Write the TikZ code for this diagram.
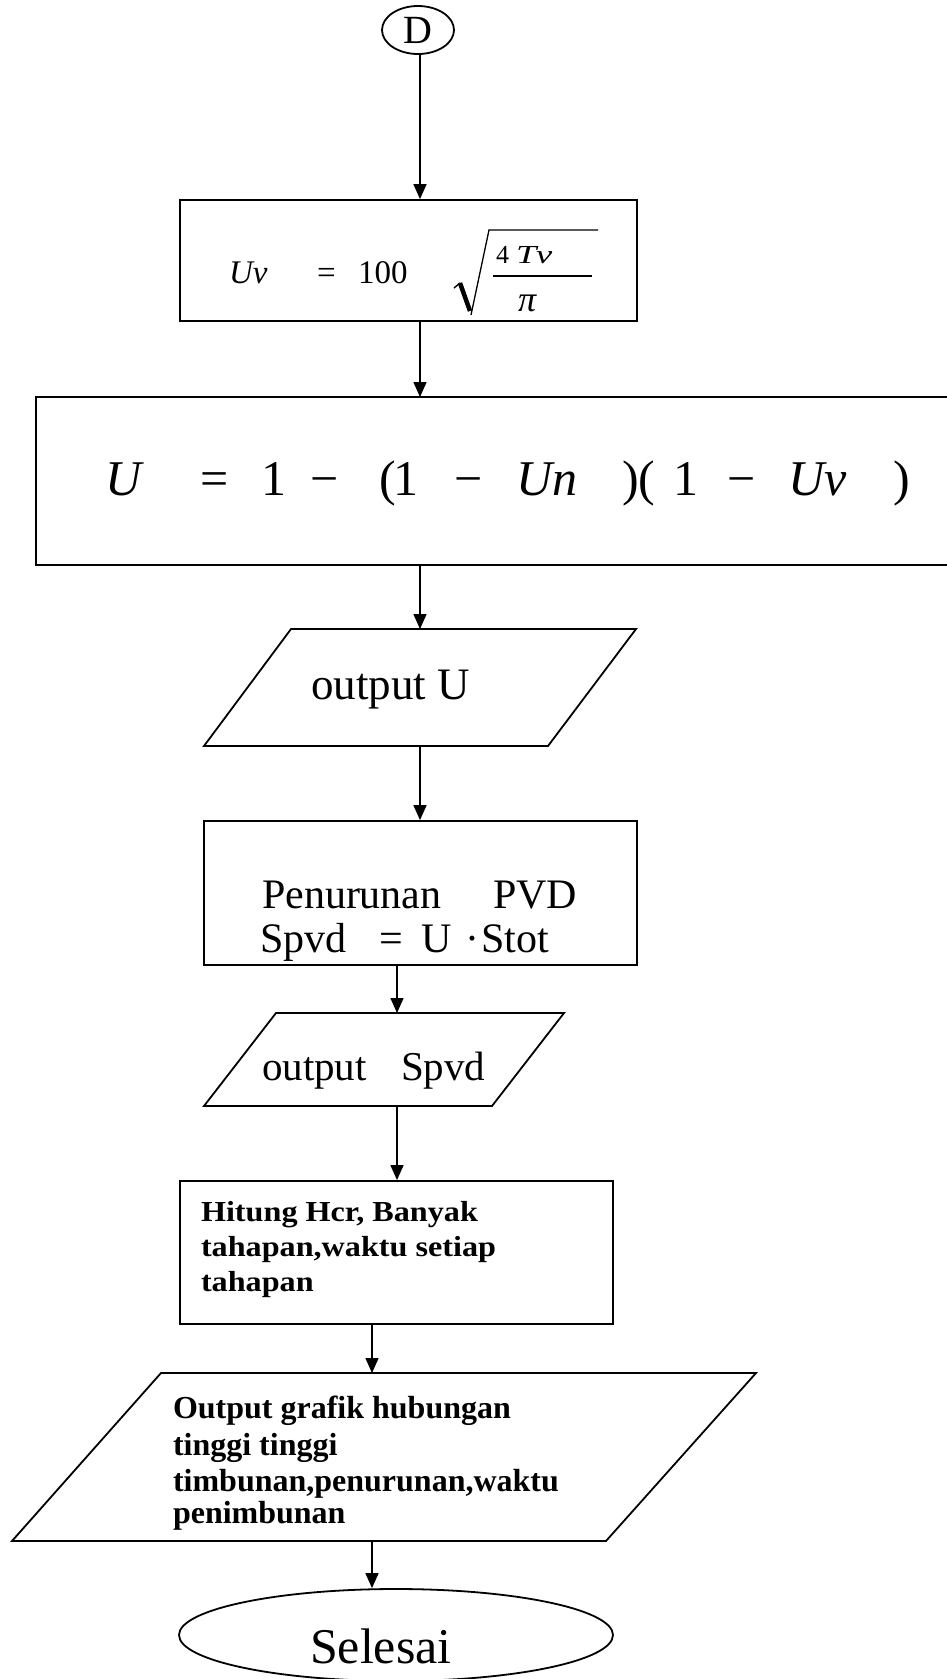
\documentclass[tikz,border=0pt]{standalone}
\usepackage{fontspec}
\setmainfont{Liberation Serif}
\usepackage{graphicx}
\usetikzlibrary{shapes.geometric,arrows.meta}
\newcommand\fsz[1]{\fontsize{#1pt}{#1pt}\selectfont}
\begin{document}
\begin{tikzpicture}[x=1pt,y=-1pt,
  bl/.style={line width=1.8pt},
  boxnode/.style={draw,line width=1.8pt,shape=rectangle,inner sep=0pt},
  hold/.style={shape=rectangle,inner sep=0pt,outer sep=0pt},
  arr/.style={line width=1.5pt,-{Triangle[length=15pt,width=13pt]}},
  txt/.style={inner sep=0pt,outer sep=0pt,anchor=base west}]
\useasboundingbox[fill=white] (0,0) rectangle (947,1679);

% shapes
\node[draw,bl,ellipse,minimum width=72pt,minimum height=48pt,inner sep=0pt] (D) at (418,30) {\fsz{40}D};
\node[boxnode,minimum width=457pt,minimum height=121pt] (box1) at (408.5,260.5) {};
\node[hold,minimum width=911pt,minimum height=168pt] (box2) at (491.5,481) {};
\draw[bl] (box2.north east) -- (box2.north west) -- (box2.south west) -- (box2.south east);
\node[hold,minimum width=432pt,minimum height=117pt] (p1) at (420,687.5) {};
\draw[bl] (p1.north east) -- ([xshift=-88pt]p1.south east) -- (p1.south west) -- ([xshift=87pt]p1.north west) -- cycle;
\node[boxnode,minimum width=433pt,minimum height=144pt] (box3) at (420.5,893) {};
\node[hold,minimum width=360pt,minimum height=93pt] (p2) at (384,1059.5) {};
\draw[bl] (p2.north east) -- ([xshift=-72pt]p2.south east) -- (p2.south west) -- ([xshift=72pt]p2.north west) -- cycle;
\node[boxnode,minimum width=433pt,minimum height=143pt] (box4) at (396.5,1252.5) {};
\node[hold,minimum width=744pt,minimum height=168pt] (p3) at (384,1457) {};
\draw[bl] (p3.north east) -- ([xshift=-150pt]p3.south east) -- (p3.south west) -- ([xshift=149pt]p3.north west) -- cycle;
\node[draw,bl,ellipse,minimum width=434pt,minimum height=92pt,inner sep=0pt] (sel) at (396,1635) {};

% box1 formula
\node[txt] (f1a) at (229,283.5) {\fsz{33}\itshape Uv};
\node[txt] (f1b) at (317,283.5) {\fsz{33}=};
\node[txt] (f1c) at (358,283.5) {\fsz{33}100};
\draw[line width=1.4pt] (454,288) -- (460,283);
\draw[line width=4.5pt] (460,283) -- (470,311);
\draw[line width=1.3pt] (471,315) -- (489,230) -- (598,230);
\node[txt] (f1d) at (496,263) {\fsz{26}4};
\node[txt] (f1e) at (516,263) {\fsz{26}\scalebox{1.4}[1]{\itshape Tv}};
\draw[line width=1.3pt] (493,276) -- (592,276);
\node[txt] (f1f) at (518,311) {\fsz{36}\itshape π};

% box2 formula
\node[txt] (f2a) at (105,495) {\fsz{50}\itshape U};
\node[txt] (f2b) at (200,495) {\fsz{50}=};
\node[txt] (f2c) at (261,495) {\fsz{50}1};
\node[txt] (f2d) at (310,495) {\fsz{50}−};
\node[txt] (f2e) at (379,495) {\fsz{50}(};
\node[txt] (f2f) at (393,495) {\fsz{50}1};
\node[txt] (f2g) at (454,495) {\fsz{50}−};
\node[txt] (f2h) at (516,495) {\fsz{50}\itshape Un};
\node[txt] (f2i) at (622,495) {\fsz{50})(};
\node[txt] (f2j) at (673,495) {\fsz{50}1};
\node[txt] (f2k) at (727,495) {\fsz{50}−};
\node[txt] (f2l) at (788,495) {\fsz{50}\itshape Uv};
\node[txt] (f2m) at (893,495) {\fsz{50})};

% para1
\node[txt] (t1) at (311,699) {\fsz{45}output U};
% box3
\node[txt] (t2a) at (262,908) {\fsz{42}Penurunan};
\node[txt] (t2b) at (493,908) {\fsz{42}PVD};
\node[txt] (t2c) at (260,952) {\fsz{42}Spvd};
\node[txt] (t2d) at (379,952) {\fsz{42}=};
\node[txt] (t2e) at (421,952) {\fsz{42}U};
\node[txt] (t2f) at (465,952) {\fsz{42}·};
\node[txt] (t2g) at (481,952) {\fsz{42}Stot};
% para2
\node[txt] (t3a) at (262,1080) {\fsz{41}output};
\node[txt] (t3b) at (401,1080) {\fsz{41}Spvd};
% box4
\node[txt] (t4a) at (201,1221.7) {\fsz{29}\bfseries\scalebox{1.11}[1]{Hitung Hcr, Banyak}};
\node[txt] (t4b) at (201,1256.7) {\fsz{29}\bfseries\scalebox{1.11}[1]{tahapan,waktu setiap}};
\node[txt] (t4c) at (201,1291.7) {\fsz{29}\bfseries\scalebox{1.11}[1]{tahapan}};
% para3
\node[txt] (t5a) at (173,1418) {\fsz{32}\bfseries Output grafik hubungan};
\node[txt] (t5b) at (173,1455) {\fsz{32}\bfseries tinggi tinggi};
\node[txt] (t5c) at (173,1491) {\fsz{32}\bfseries timbunan,penurunan,waktu};
\node[txt] (t5d) at (173,1523) {\fsz{32}\bfseries penimbunan};
% selesai
\node[txt] (t6) at (310,1663) {\fsz{50}Selesai};

% connectors
\coordinate (cA) at (420,0);
\coordinate (cB) at (397,0);
\coordinate (cC) at (372,0);
\draw[arr] (D.south -| cA) -- (box1.north -| cA);
\draw[arr] (box1.south -| cA) -- (box2.north -| cA);
\draw[arr] (box2.south -| cA) -- (p1.north -| cA);
\draw[arr] (p1.south -| cA) -- (box3.north -| cA);
\draw[arr] (box3.south -| cB) -- (p2.north -| cB);
\draw[arr] (p2.south -| cB) -- (box4.north -| cB);
\draw[arr] (box4.south -| cC) -- (p3.north -| cC);
\draw[arr] (p3.south -| cC) -- (sel.north -| cC);
\end{tikzpicture}
\end{document}
